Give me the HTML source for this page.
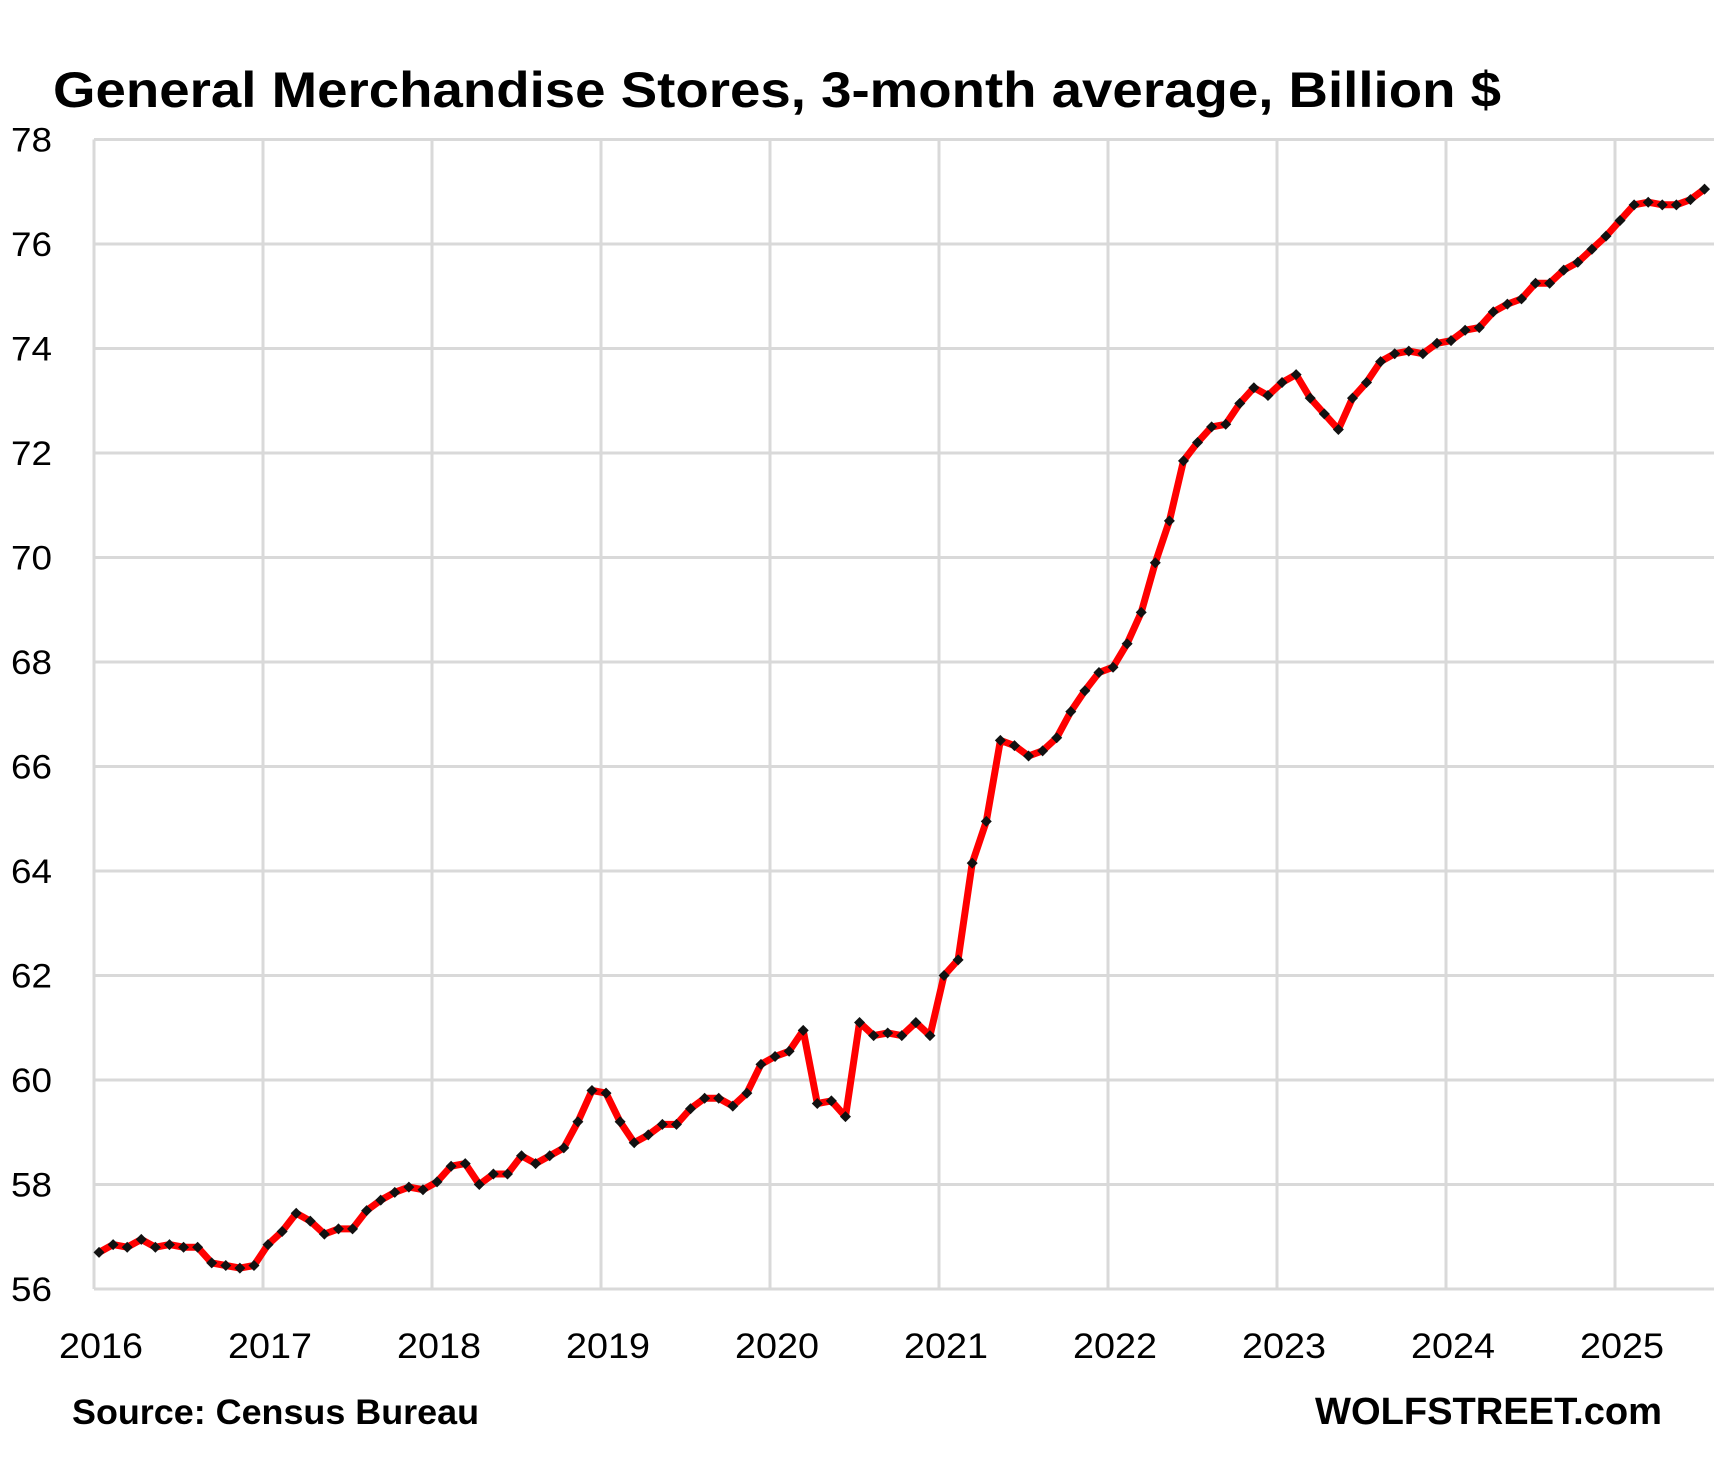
<!DOCTYPE html>
<html><head><meta charset="utf-8"><style>
html,body{margin:0;padding:0;background:#fff;}
svg{display:block;font-family:"Liberation Sans",sans-serif;}
</style></head><body>
<svg id="chart" width="1728" height="1458" viewBox="0 0 1728 1458">
<rect x="0" y="0" width="1728" height="1458" fill="#fff"/>
<text x="53" y="107" font-size="50" font-weight="bold" textLength="1448" lengthAdjust="spacingAndGlyphs">General Merchandise Stores, 3-month average, Billion $</text>
<g id="grid"></g>
<g id="axes"></g>
<g id="series"></g>
<text x="72" y="1424" font-size="35" font-weight="bold" textLength="407" lengthAdjust="spacingAndGlyphs">Source: Census Bureau</text>
<text x="1315" y="1424" font-size="38" font-weight="bold" textLength="347" lengthAdjust="spacingAndGlyphs">WOLFSTREET.com</text>
</svg>
<script>
const yearLabels = ["2016","2017","2018","2019","2020","2021","2022","2023","2024","2025"];
const yTicks = [56,58,60,62,64,66,68,70,72,74,76,78];
const values = [
56.7,56.85,56.8,56.95,56.8,56.85,56.8,56.8,56.5,56.45,56.4,56.45,
56.85,57.1,57.45,57.3,57.05,57.15,57.15,57.5,57.7,57.85,57.95,57.9,
58.05,58.35,58.4,58.0,58.2,58.2,58.55,58.4,58.55,58.7,59.2,59.8,
59.75,59.2,58.8,58.95,59.15,59.15,59.45,59.65,59.65,59.5,59.75,60.3,
60.45,60.55,60.95,59.55,59.6,59.3,61.1,60.85,60.9,60.85,61.1,60.85,
62.0,62.3,64.15,64.95,66.5,66.4,66.2,66.3,66.55,67.05,67.45,67.8,
67.9,68.35,68.95,69.9,70.7,71.85,72.2,72.5,72.55,72.95,73.25,73.1,
73.35,73.5,73.05,72.75,72.45,73.05,73.35,73.75,73.9,73.95,73.9,74.1,
74.15,74.35,74.4,74.7,74.85,74.95,75.25,75.25,75.5,75.65,75.9,76.15,
76.45,76.75,76.8,76.75,76.75,76.85,77.05
];
const NS="http://www.w3.org/2000/svg";
const X0=94, X1=1714, YW=169, Y0=1289, Y1=139.5, VMIN=56, VMAX=78;
function xYear(k){return X0+k*YW;}
function xMonth(i){return X0+5+(i+0.5)*(YW/12)-7;}
function yVal(v){return Y0-(v-VMIN)*(Y0-Y1)/(VMAX-VMIN);}
function mk(tag,attrs,parent){const e=document.createElementNS(NS,tag);for(const k in attrs)e.setAttribute(k,attrs[k]);parent.appendChild(e);return e;}
const grid=document.getElementById('grid'), axes=document.getElementById('axes'), series=document.getElementById('series');
yTicks.forEach(v=>{
  const l=mk('line',{x1:X0,x2:X1,y1:yVal(v),y2:yVal(v),stroke:'#d9d9d9','stroke-width':3},grid);
  
  
  const t=mk('text',{x:52,y:yVal(v)+12,'font-size':34,'text-anchor':'end',fill:'#000',textLength:41,lengthAdjust:'spacingAndGlyphs'},axes);
  t.textContent=String(v);
  
  
});
yearLabels.forEach((lab,k)=>{
  const l=mk('line',{x1:xYear(k),x2:xYear(k),y1:Y1,y2:Y0,stroke:'#d9d9d9','stroke-width':3},grid);
  
  
  const t=mk('text',{x:xYear(k)+7,y:1358,'font-size':35,'text-anchor':'middle',fill:'#000',textLength:84,lengthAdjust:'spacingAndGlyphs'},axes);
  t.textContent=lab;
  
  
});
const pts=values.map((v,i)=>xMonth(i).toFixed(1)+','+yVal(v).toFixed(1)).join(' ');
const line=mk('polyline',{points:pts,fill:'none',stroke:'#ff0000','stroke-width':7,'stroke-linejoin':'round'},series);


values.forEach((v,i)=>{
  const x=xMonth(i), y=yVal(v), s=5.5;
  const d=mk('polygon',{points:`${x},${y-s} ${x+s},${y} ${x},${y+s} ${x-s},${y}`,fill:'#111'},series);
  
  
});
</script>
</body></html>
